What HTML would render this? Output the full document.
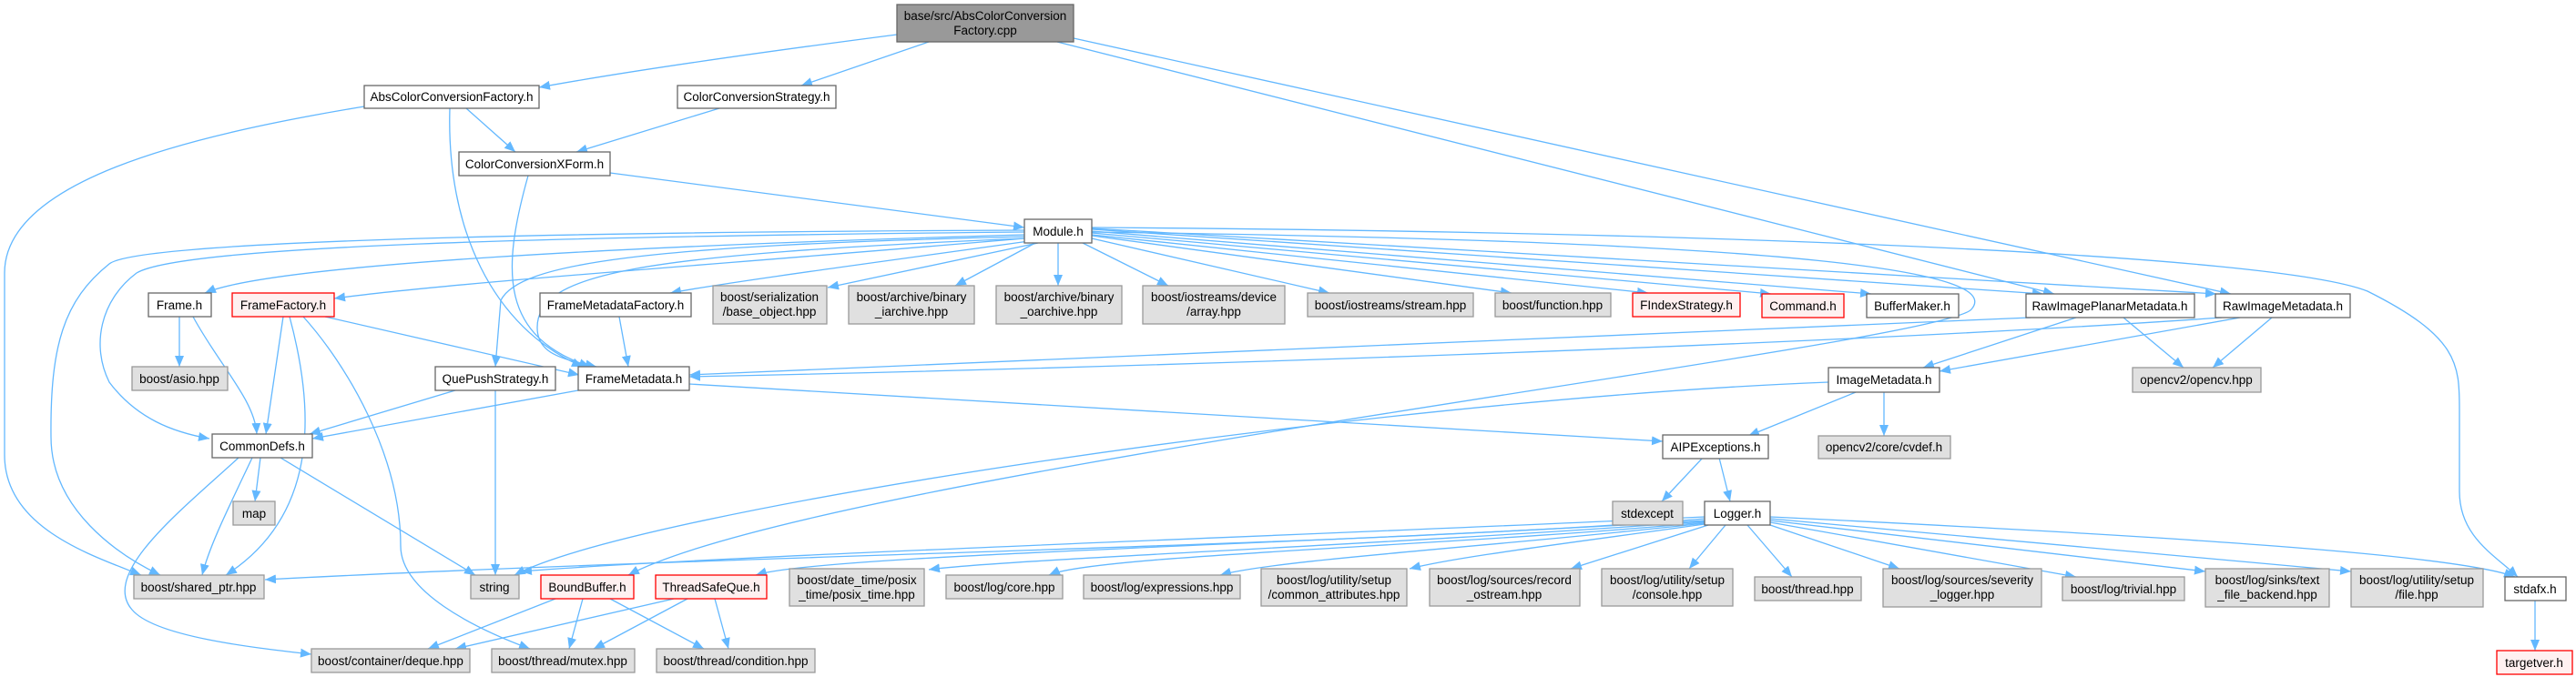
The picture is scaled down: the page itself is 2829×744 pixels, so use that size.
<!DOCTYPE html>
<html><head><meta charset="utf-8"><style>
html,body{margin:0;padding:0;background:#fff;}
svg{display:block;}
text{font-family:"Liberation Sans",Arial,sans-serif;font-size:13.5px;fill:#000;text-anchor:middle;}
.n rect{fill:#fff;stroke:#666;stroke-width:1.3;}
.g rect{fill:#e0e0e0;stroke:#999;stroke-width:1.3;}
.r rect{fill:#fff0f0;stroke:#f00;stroke-width:1.3;}
.e path{fill:none;stroke:#63b8ff;stroke-width:1.3;marker-end:url(#a);}
</style></head><body>
<svg width="2829" height="744" viewBox="0 0 2829 744" xmlns="http://www.w3.org/2000/svg">
<defs><marker id="a" markerUnits="userSpaceOnUse" markerWidth="14" markerHeight="12" refX="12" refY="5" orient="auto"><path d="M0,0 L12,5 L0,10 z" fill="#63b8ff"/></marker></defs>
<g class="e">
<path d="M985,38 C800,62 680,80 592,96"/>
<path d="M1020,46 L880,94"/>
<path d="M1161,46 L2256,323"/>
<path d="M1179,42 L2450,323"/>
<path d="M400,117 C200,150 5,200 5,300 L5,500 C5,580 100,610 155,632"/>
<path d="M512,119 L566,167"/>
<path d="M494,119 C490,250 540,360 640,403"/>
<path d="M790,119 L633,167"/>
<path d="M670,190 L1125,250"/>
<path d="M580,193 C550,300 550,370 648,403"/>
<path d="M1125,258 C700,270 300,290 225,322"/>
<path d="M1125,262 C800,290 500,310 367,328"/>
<path d="M1130,265 C950,290 800,310 736,322"/>
<path d="M1140,267 L909,316"/>
<path d="M1137,267 L1049,314"/>
<path d="M1162,267 L1162,314"/>
<path d="M1189,267 L1283,314"/>
<path d="M1199,262 L1460,322"/>
<path d="M1199,259 L1660,322"/>
<path d="M1199,258 L1810,322"/>
<path d="M1199,256 L1945,323"/>
<path d="M1199,254 L2055,323"/>
<path d="M1199,252 L2244,323"/>
<path d="M1199,251 L2434,323"/>
<path d="M1199,250 C1900,255 2500,280 2600,320 C2700,370 2701,400 2701,450 L2701,540 C2701,590 2740,610 2765,634"/>
<path d="M1199,255 C2000,265 2200,300 2165,340 C2130,380 900,520 690,632"/>
<path d="M1125,255 C600,260 200,270 150,300 C110,330 100,380 120,420 C150,460 190,475 230,482"/>
<path d="M1125,253 C600,255 150,265 120,290 C70,330 55,380 56,480 C56,560 130,610 176,632"/>
<path d="M1125,260 C700,270 570,290 550,330 L544,403"/>
<path d="M1125,262 C700,280 590,300 590,360 C590,390 620,395 655,403"/>
<path d="M311,348 L292,477"/>
<path d="M318,348 C340,430 360,560 248,632"/>
<path d="M357,348 L636,412"/>
<path d="M333,348 C380,400 440,500 440,600 C440,650 520,690 582,713"/>
<path d="M197,348 L197,403"/>
<path d="M212,348 C240,400 280,440 282,477"/>
<path d="M680,348 L690,403"/>
<path d="M500,429 L340,477"/>
<path d="M544,429 L544,632"/>
<path d="M635,429 L343,482"/>
<path d="M757,422 L1826,485"/>
<path d="M286,503 L280,551"/>
<path d="M277,503 C250,560 230,600 222,632"/>
<path d="M308,503 L522,632"/>
<path d="M262,503 C200,560 110,630 145,670 C170,700 280,712 342,719"/>
<path d="M2230,349 L757,412"/>
<path d="M2440,349 C2000,380 1200,405 757,414"/>
<path d="M2280,349 L2112,404"/>
<path d="M2460,349 L2130,408"/>
<path d="M2332,349 L2398,404"/>
<path d="M2495,349 L2430,404"/>
<path d="M2038,431 L1920,479"/>
<path d="M2069,431 L2069,479"/>
<path d="M2008,420 C1500,440 700,560 565,632"/>
<path d="M1870,503 L1825,551"/>
<path d="M1888,503 L1900,551"/>
<path d="M1872,570 C1500,600 800,610 291,637"/>
<path d="M1872,568 C1400,590 800,610 572,628"/>
<path d="M1872,572 C1400,600 900,610 830,632"/>
<path d="M1872,573 C1500,600 1100,615 1020,626"/>
<path d="M1872,574 C1600,600 1200,610 1152,632"/>
<path d="M1872,575 C1650,600 1400,615 1340,632"/>
<path d="M1872,576 C1700,600 1600,612 1548,625"/>
<path d="M1876,577 L1725,625"/>
<path d="M1895,577 L1855,625"/>
<path d="M1919,577 L1968,634"/>
<path d="M1944,577 L2086,625"/>
<path d="M1944,574 L2280,634"/>
<path d="M1944,572 L2422,628"/>
<path d="M1944,570 L2582,628"/>
<path d="M1944,568 C2400,590 2700,610 2762,634"/>
<path d="M610,658 L470,713"/>
<path d="M640,658 L625,713"/>
<path d="M670,658 L773,713"/>
<path d="M740,658 L500,713"/>
<path d="M755,658 L652,713"/>
<path d="M785,658 L800,713"/>
<path d="M2784,660 L2784,715"/>
</g>
<g>
<rect x="985" y="5" width="194" height="41" fill="#999" stroke="#666" stroke-width="1.3"/>
<text x="1082" y="22">base/src/AbsColorConversion</text><text x="1082" y="38">Factory.cpp</text>
</g>
<g class="n"><rect x="400" y="94" width="192" height="25"/><text x="496" y="111">AbsColorConversionFactory.h</text></g>
<g class="n"><rect x="744" y="94" width="174" height="25"/><text x="831" y="111">ColorConversionStrategy.h</text></g>
<g class="n"><rect x="504" y="167" width="166" height="26"/><text x="587" y="185">ColorConversionXForm.h</text></g>
<g class="n"><rect x="1125" y="241" width="74" height="26"/><text x="1162" y="259">Module.h</text></g>
<g class="n"><rect x="163" y="322" width="69" height="26"/><text x="197" y="340">Frame.h</text></g>
<g class="r"><rect x="255" y="322" width="112" height="26"/><text x="311" y="340">FrameFactory.h</text></g>
<g class="n"><rect x="593" y="322" width="166" height="26"/><text x="676" y="340">FrameMetadataFactory.h</text></g>
<g class="g"><rect x="783" y="314" width="125" height="42"/><text x="845" y="331">boost/serialization</text><text x="845" y="347">/base_object.hpp</text></g>
<g class="g"><rect x="932" y="314" width="138" height="42"/><text x="1001" y="331">boost/archive/binary</text><text x="1001" y="347">_iarchive.hpp</text></g>
<g class="g"><rect x="1094" y="314" width="138" height="42"/><text x="1163" y="331">boost/archive/binary</text><text x="1163" y="347">_oarchive.hpp</text></g>
<g class="g"><rect x="1255" y="314" width="156" height="42"/><text x="1333" y="331">boost/iostreams/device</text><text x="1333" y="347">/array.hpp</text></g>
<g class="g"><rect x="1436" y="322" width="182" height="26"/><text x="1527" y="340">boost/iostreams/stream.hpp</text></g>
<g class="g"><rect x="1642" y="322" width="127" height="26"/><text x="1705" y="340">boost/function.hpp</text></g>
<g class="r"><rect x="1793" y="322" width="118" height="26"/><text x="1852" y="340">FIndexStrategy.h</text></g>
<g class="r"><rect x="1935" y="323" width="90" height="26"/><text x="1980" y="341">Command.h</text></g>
<g class="n"><rect x="2050" y="323" width="101" height="26"/><text x="2100" y="341">BufferMaker.h</text></g>
<g class="n"><rect x="2225" y="323" width="185" height="26"/><text x="2317" y="341">RawImagePlanarMetadata.h</text></g>
<g class="n"><rect x="2433" y="323" width="148" height="26"/><text x="2507" y="341">RawImageMetadata.h</text></g>
<g class="g"><rect x="145" y="403" width="105" height="26"/><text x="197" y="421">boost/asio.hpp</text></g>
<g class="n"><rect x="478" y="403" width="132" height="26"/><text x="544" y="421">QuePushStrategy.h</text></g>
<g class="n"><rect x="635" y="403" width="122" height="26"/><text x="696" y="421">FrameMetadata.h</text></g>
<g class="n"><rect x="2008" y="404" width="122" height="27"/><text x="2069" y="422">ImageMetadata.h</text></g>
<g class="g"><rect x="2342" y="404" width="141" height="27"/><text x="2412" y="422">opencv2/opencv.hpp</text></g>
<g class="n"><rect x="233" y="477" width="110" height="26"/><text x="288" y="495">CommonDefs.h</text></g>
<g class="n"><rect x="1826" y="478" width="116" height="26"/><text x="1884" y="496">AIPExceptions.h</text></g>
<g class="g"><rect x="1997" y="479" width="145" height="25"/><text x="2069" y="496">opencv2/core/cvdef.h</text></g>
<g class="g"><rect x="256" y="551" width="46" height="26"/><text x="279" y="569">map</text></g>
<g class="g"><rect x="1771" y="551" width="77" height="26"/><text x="1809" y="569">stdexcept</text></g>
<g class="n"><rect x="1872" y="551" width="72" height="26"/><text x="1908" y="569">Logger.h</text></g>
<g class="g"><rect x="147" y="632" width="143" height="26"/><text x="218" y="650">boost/shared_ptr.hpp</text></g>
<g class="g"><rect x="517" y="632" width="53" height="26"/><text x="543" y="650">string</text></g>
<g class="r"><rect x="594" y="632" width="102" height="26"/><text x="645" y="650">BoundBuffer.h</text></g>
<g class="r"><rect x="720" y="632" width="122" height="26"/><text x="781" y="650">ThreadSafeQue.h</text></g>
<g class="g"><rect x="867" y="625" width="148" height="41"/><text x="941" y="642">boost/date_time/posix</text><text x="941" y="658">_time/posix_time.hpp</text></g>
<g class="g"><rect x="1039" y="632" width="128" height="26"/><text x="1103" y="650">boost/log/core.hpp</text></g>
<g class="g"><rect x="1190" y="632" width="172" height="26"/><text x="1276" y="650">boost/log/expressions.hpp</text></g>
<g class="g"><rect x="1385" y="625" width="160" height="41"/><text x="1465" y="642">boost/log/utility/setup</text><text x="1465" y="658">/common_attributes.hpp</text></g>
<g class="g"><rect x="1570" y="625" width="165" height="41"/><text x="1652" y="642">boost/log/sources/record</text><text x="1652" y="658">_ostream.hpp</text></g>
<g class="g"><rect x="1759" y="625" width="144" height="41"/><text x="1831" y="642">boost/log/utility/setup</text><text x="1831" y="658">/console.hpp</text></g>
<g class="g"><rect x="1927" y="634" width="117" height="26"/><text x="1985" y="652">boost/thread.hpp</text></g>
<g class="g"><rect x="2068" y="625" width="174" height="42"/><text x="2155" y="642">boost/log/sources/severity</text><text x="2155" y="658">_logger.hpp</text></g>
<g class="g"><rect x="2265" y="634" width="134" height="26"/><text x="2332" y="652">boost/log/trivial.hpp</text></g>
<g class="g"><rect x="2422" y="625" width="136" height="42"/><text x="2490" y="642">boost/log/sinks/text</text><text x="2490" y="658">_file_backend.hpp</text></g>
<g class="g"><rect x="2582" y="625" width="145" height="42"/><text x="2654" y="642">boost/log/utility/setup</text><text x="2654" y="658">/file.hpp</text></g>
<g class="n"><rect x="2751" y="634" width="67" height="26"/><text x="2784" y="652">stdafx.h</text></g>
<g class="g"><rect x="342" y="713" width="174" height="26"/><text x="429" y="731">boost/container/deque.hpp</text></g>
<g class="g"><rect x="540" y="713" width="157" height="26"/><text x="618" y="731">boost/thread/mutex.hpp</text></g>
<g class="g"><rect x="721" y="713" width="174" height="26"/><text x="808" y="731">boost/thread/condition.hpp</text></g>
<g class="r"><rect x="2742" y="715" width="83" height="26"/><text x="2783" y="733">targetver.h</text></g>
</svg>
</body></html>
